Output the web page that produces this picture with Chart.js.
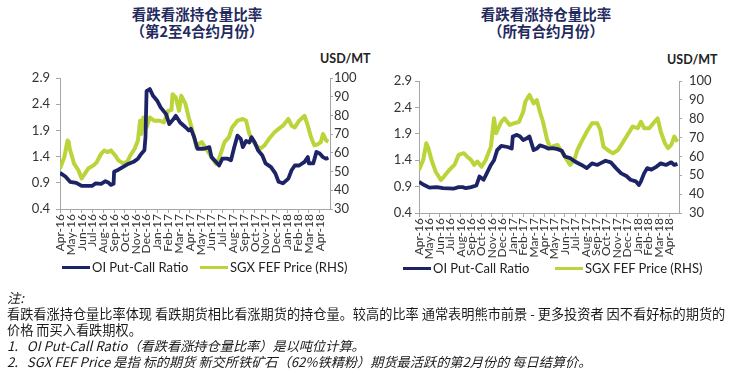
<!DOCTYPE html>
<html>
<head>
<meta charset="utf-8">
<script src="https://cdn.jsdelivr.net/npm/chart.js@4"></script>
<style>
  html, body { margin:0; padding:0; background:#fff; }
  body { width:736px; height:375px; position:relative; overflow:hidden; font-family:"Noto Sans CJK SC", sans-serif; }
  canvas { position:absolute; top:0; }
  .title { position:absolute; top:5px; width:240px; text-align:center; color:#1f2a5e; font-weight:700; font-size:14.5px; line-height:17px; font-family:"Noto Sans CJK SC", sans-serif; }
  .unit { position:absolute; font-family:Lato, "Liberation Sans", sans-serif; font-weight:700; font-size:12.5px; color:#222; line-height:14px; }
  .leg { position:absolute; font-family:Lato, "Liberation Sans", sans-serif; font-size:13px; color:#222; line-height:15px; white-space:nowrap; }
  .leg i { display:inline-block; width:28px; height:3px; vertical-align:middle; margin-right:2px; position:relative; top:-1px; }
  .notes { position:absolute; left:7px; top:290px; font-size:13.2px; line-height:16px; color:#1a1a1a; white-space:nowrap; font-family:"Noto Sans CJK SC", sans-serif; }
  .notes .it { font-style:italic; }
</style>
</head>
<body>
<div class="title" style="left:77px;">看跌看涨持仓量比率<br>（第2至4合约月份）</div>
<div class="title" style="left:426px;">看跌看涨持仓量比率<br>（所有合约月份）</div>
<div class="unit" style="left:320px; top:52px;">USD/MT</div>
<div class="unit" style="left:667px; top:53px;">USD/MT</div>
<canvas id="c1" width="368" height="260" style="left:0;"></canvas>
<canvas id="c2" width="368" height="265" style="left:368px;"></canvas>
<div class="leg" style="left:62px; top:260px;"><i style="background:#1c2467"></i>OI Put-Call Ratio</div>
<div class="leg" style="left:200px; top:260px;"><i style="background:#b9d53a"></i>SGX FEF Price (RHS)</div>
<div class="leg" style="left:403px; top:261px;"><i style="background:#1c2467"></i>OI Put-Call Ratio</div>
<div class="leg" style="left:555px; top:261px;"><i style="background:#b9d53a"></i>SGX FEF Price (RHS)</div>
<div class="notes">
<span class="it">注:</span><br>
看跌看涨持仓量比率体现 看跌期货相比看涨期货的持仓量。较高的比率 通常表明熊市前景 - 更多投资者 因不看好标的期货的<br>
价格 而买入看跌期权。<br>
<span class="it">1.&nbsp;&nbsp;&nbsp;OI Put-Call Ratio（看跌看涨持仓量比率）是以吨位计算。</span><br>
<span class="it">2.&nbsp;&nbsp;&nbsp;SGX FEF Price 是指 标的期货 新交所铁矿石（62%铁精粉）期货最活跃的第2月份的 每日结算价。</span>
</div>
<script>
const monthLabels = ['Apr-16','May-16','Jun-16','Jul-16','Aug-16','Sep-16','Oct-16','Nov-16','Dec-16','Jan-17','Feb-17','Mar-17','Apr-17','May-17','Jun-17','Jul-17','Aug-17','Sep-17','Oct-17','Nov-17','Dec-17','Jan-18','Feb-18','Mar-18','Apr-18'];
const ratioTicks = [0.4, 0.9, 1.4, 1.9, 2.4, 2.9];
const priceTicks = [30, 40, 50, 60, 70, 80, 90, 100];

// Left chart (2nd-4th contract months): month offset from Apr-16, value
const leftRatioPos = [0,0.5,0.93,1.5,2.0,2.5,2.95,3.3,3.8,4.2,4.5,4.7,4.95,5.0,5.4,5.8,6.3,6.8,7.2,7.5,7.8,7.9,8.0,8.3,8.6,9.0,9.3,9.8,10.1,10.5,10.7,11.1,11.6,11.9,12.1,12.4,12.7,13.3,13.8,14.0,14.4,14.7,15.0,15.5,15.8,16.1,16.4,16.7,16.9,17.2,17.5,17.7,18.0,18.3,18.7,19.0,19.5,19.9,20.2,20.6,21.1,21.4,21.7,22.1,22.6,22.9,23.0,23.4,23.7,24.0,24.3,24.6,24.8];
const leftRatioVal = [1.09,1.02,0.92,0.90,0.84,0.84,0.84,0.89,0.88,0.93,0.90,0.86,0.88,1.11,1.15,1.20,1.26,1.30,1.36,1.45,1.52,1.77,2.65,2.69,2.56,2.46,2.34,2.21,2.02,2.12,2.18,2.05,1.96,1.90,1.93,1.77,1.55,1.55,1.58,1.39,1.30,1.23,1.36,1.36,1.33,1.58,1.80,1.74,1.58,1.70,1.67,1.77,1.67,1.52,1.42,1.27,1.20,1.08,0.92,0.89,0.98,1.14,1.23,1.23,1.30,1.39,1.27,1.27,1.49,1.46,1.39,1.36,1.38];
const leftPricePos = [0,0.4,0.7,0.8,0.9,1.3,1.7,2.0,2.3,2.6,3.1,3.4,3.8,4.1,4.4,4.7,5.1,5.4,5.8,6.2,6.5,6.9,7.2,7.4,7.5,7.7,8.0,8.3,8.7,9.2,9.6,10.0,10.3,10.4,10.7,11.0,11.2,11.6,11.9,12.2,12.4,12.6,12.8,13.1,13.6,14.1,14.4,14.7,15.2,15.6,15.9,16.4,16.9,17.2,17.5,17.8,18.1,18.5,18.9,19.3,19.8,20.2,20.6,21.1,21.4,21.7,22.1,22.6,22.9,23.2,23.5,23.8,24.1,24.3,24.6,24.8];
const leftPriceVal = [51.6,57.7,66.6,65.9,62.2,54.2,50.7,46.3,48.9,51.6,53.3,55.1,59.5,61.3,60.4,61.3,58.6,56.0,54.5,55.1,58.6,62.2,66.6,77.2,70.1,78.9,73.6,78.9,77.2,77.2,76.3,82.5,83.0,91.3,89.6,82.5,90.5,86.0,78.9,72.8,68.3,63.0,64.5,65.7,61.3,56.9,54.2,56.9,65.7,68.3,73.6,77.2,78.1,77.2,70.1,66.6,64.0,62.2,64.0,67.4,70.9,72.8,74.5,78.1,74.5,73.6,77.2,79.8,74.5,68.3,64.0,64.5,65.7,70.1,66.6,66.0];

// Right chart (all contract months)
const rightRatioPos = [0,0.5,1.0,1.7,2.3,3.3,3.8,4.2,4.5,5.0,5.5,5.8,6.2,6.5,6.9,7.2,7.5,7.9,8.5,8.9,9.0,9.4,9.7,10.0,10.3,10.6,11.0,11.3,11.6,12.1,12.4,12.8,13.3,13.7,14.0,14.5,15.0,15.6,16.1,16.6,17.1,17.4,17.9,18.4,18.9,19.4,19.9,20.3,20.8,21.1,21.3,21.6,21.9,22.3,22.8,23.2,23.7,24.2,24.5,24.8];
const rightRatioVal = [0.99,0.93,0.88,0.89,0.87,0.86,0.89,0.89,0.87,0.89,0.92,1.09,1.03,1.15,1.31,1.40,1.59,1.67,1.65,1.62,1.85,1.88,1.85,1.78,1.81,1.85,1.59,1.62,1.68,1.65,1.62,1.63,1.61,1.58,1.47,1.44,1.37,1.31,1.25,1.34,1.31,1.34,1.39,1.36,1.25,1.15,1.10,1.03,1.00,0.93,1.00,1.15,1.25,1.22,1.28,1.34,1.31,1.36,1.31,1.33];
const rightPricePos = [0,0.4,0.7,0.9,1.2,1.6,2.1,2.4,2.9,3.4,3.8,4.3,4.6,5.0,5.3,5.6,6.0,6.4,6.9,7.2,7.4,7.9,8.2,8.7,9.1,9.6,10.0,10.2,10.6,11.0,11.3,11.6,11.9,12.3,12.6,12.9,13.3,13.7,14.2,14.5,14.9,15.2,15.6,16.1,16.6,17.1,17.4,17.7,18.1,18.6,19.1,19.6,20.1,20.5,21.0,21.3,21.6,22.1,22.6,22.9,23.2,23.6,23.9,24.2,24.5,24.8];
const rightPriceVal = [52.8,58.1,67.0,64.4,58.1,51.9,47.5,49.3,52.8,55.5,60.8,61.7,60.0,58.1,55.5,57.3,54.6,58.1,65.2,80.2,72.3,78.4,80.2,76.7,77.5,78.4,83.7,89.0,92.6,88.1,89.9,83.7,78.4,68.7,64.4,65.5,66.1,62.5,58.1,55.5,58.1,63.4,67.8,73.1,77.6,77.6,74.0,65.2,63.4,61.6,63.4,67.8,72.3,75.8,75.0,78.4,75.0,75.0,78.4,80.2,73.1,67.0,64.4,66.1,70.5,67.8];

const NAVY = '#1c2467', GREEN = '#b9d53a', AXIS = '#a6a6a6', TXT = '#333';
const toPts = (xs, ys) => xs.map((x, i) => ({ x: x, y: ys[i] }));

function build(id, ratioPos, ratioVal, pricePos, priceVal, g) {
  return new Chart(document.getElementById(id), {
    type: 'line',
    data: {
      datasets: [
        { label: 'OI Put-Call Ratio', data: toPts(ratioPos, ratioVal), yAxisID: 'y', borderColor: NAVY, backgroundColor: NAVY, borderWidth: 3.8, pointRadius: 0, tension: 0, borderJoinStyle: 'round' },
        { label: 'SGX FEF Price (RHS)', data: toPts(pricePos, priceVal), yAxisID: 'y1', borderColor: GREEN, backgroundColor: GREEN, borderWidth: 4, pointRadius: 0, tension: 0, borderJoinStyle: 'round' }
      ]
    },
    options: {
      responsive: false, animation: false, devicePixelRatio: 1,
      layout: { padding: { top: g.top, left: 0, right: 0, bottom: 0 } },
      plugins: { legend: { display: false }, tooltip: { enabled: false } },
      scales: {
        x: {
          type: 'linear', min: 0, max: 24.95,
          afterBuildTicks: s => { s.ticks = monthLabels.map((_, i) => ({ value: i })); },
          afterFit: s => { s.height = g.xh; },
          border: { display: true, color: AXIS, width: 1 },
          grid: { display: true, drawOnChartArea: false, drawTicks: true, tickLength: 4, color: AXIS },
          ticks: { autoSkip: false, minRotation: 90, maxRotation: 90, padding: 1, color: TXT,
                   font: { family: 'Lato', size: 12 }, callback: v => monthLabels[Math.round(v)] }
        },
        y: {
          position: 'left', min: 0.4, max: 2.9,
          afterBuildTicks: s => { s.ticks = ratioTicks.map(v => ({ value: v })); },
          afterFit: s => { s.width = g.yl; },
          border: { display: true, color: AXIS, width: 1 },
          grid: { display: true, drawOnChartArea: false, tickLength: 4, color: AXIS },
          ticks: { padding: g.ylp, color: TXT, font: { family: 'Lato', size: 13 }, callback: v => v.toFixed(1) }
        },
        y1: {
          position: 'right', min: 30, max: 100,
          afterBuildTicks: s => { s.ticks = priceTicks.map(v => ({ value: v })); },
          afterFit: s => { s.width = g.yr; },
          border: { display: true, color: AXIS, width: 1 },
          grid: { display: true, drawOnChartArea: false, tickLength: 3, color: AXIS },
          ticks: { padding: g.yrp, color: TXT, font: { family: 'Lato', size: 13 } }
        }
      }
    }
  });
}

build('c1', leftRatioPos, leftRatioVal, leftPricePos, leftPriceVal, { top: 78, xh: 51, yl: 60, ylp: 6, yr: 38, yrp: 1 });
build('c2', rightRatioPos, rightRatioVal, rightPricePos, rightPriceVal, { top: 81, xh: 52, yl: 51, ylp: 3, yr: 57, yrp: 7 });
</script>
</body>
</html>
